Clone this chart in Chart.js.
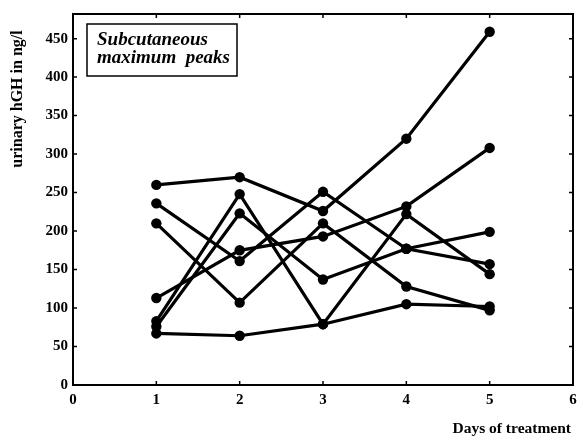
<!DOCTYPE html>
<html>
<head>
<meta charset="utf-8">
<script src="https://cdn.jsdelivr.net/npm/chart.js@4/dist/chart.umd.min.js"></script>
<style>
html,body{margin:0;padding:0;background:#fff;}
#wrap{width:586px;height:441px;position:relative;}
</style>
</head>
<body>
<div id="wrap"><canvas id="c" width="586" height="441"></canvas></div>
<script>
const days = [1, 2, 3, 4, 5];
const xTicks = [0, 1, 2, 3, 4, 5, 6];
const yTicks = [0, 50, 100, 150, 200, 250, 300, 350, 400, 450];
const patientA = [260, 270, 226, 320, 459];
const patientB = [236, 161, 251, 177, 157];
const patientC = [113, 175, 193, 232, 308];
const patientD = [210, 107, 210, 128, 97];
const patientE = [83, 248, 79, 222, 144];
const patientF = [76, 223, 137, 177, 199];
const patientG = [67, 64, 79, 105, 102];
const yTitle = 'urinary hGH in ng/l';
const xTitle = 'Days of treatment';
const boxLines = ['Subcutaneous', 'maximum  peaks'];

const allSeries = [patientA, patientB, patientC, patientD, patientE, patientF, patientG];
const datasets = allSeries.map(s => ({
  data: s.map((v, i) => ({x: days[i], y: v})),
  borderColor: '#000',
  backgroundColor: '#000',
  borderWidth: 3.2,
  pointRadius: 5.2,
  pointHoverRadius: 5.2,
  pointBorderWidth: 0,
  tension: 0,
  clip: false
}));

const SERIF = '"Liberation Serif", "Times New Roman", serif';

const framePlugin = {
  id: 'frame',
  afterDraw(chart) {
    const ctx = chart.ctx;
    const a = chart.chartArea;
    const xs = chart.scales.x, ys = chart.scales.y;
    ctx.save();
    ctx.strokeStyle = '#000';
    ctx.lineWidth = 2;
    ctx.strokeRect(a.left, a.top, a.right - a.left, a.bottom - a.top);
    ctx.lineWidth = 1.5;
    const t = 4;
    ctx.beginPath();
    xTicks.forEach(v => {
      const px = xs.getPixelForValue(v);
      ctx.moveTo(px, a.bottom); ctx.lineTo(px, a.bottom - t);
      ctx.moveTo(px, a.top); ctx.lineTo(px, a.top + t);
    });
    yTicks.forEach(v => {
      const py = ys.getPixelForValue(v);
      ctx.moveTo(a.left, py); ctx.lineTo(a.left + t, py);
      ctx.moveTo(a.right, py); ctx.lineTo(a.right - t, py);
    });
    ctx.stroke();

    // text box
    ctx.lineWidth = 1.5;
    ctx.fillStyle = '#fff';
    ctx.fillRect(87, 24, 150, 52);
    ctx.strokeRect(87, 24, 150, 52);
    ctx.fillStyle = '#000';
    ctx.font = 'bold italic 19px ' + SERIF;
    ctx.textAlign = 'left';
    ctx.textBaseline = 'alphabetic';
    ctx.fillText(boxLines[0], 97, 45);
    ctx.fillText(boxLines[1], 97, 63);

    // axis titles
    ctx.font = 'bold 15.5px ' + SERIF;
    ctx.textAlign = 'right';
    ctx.fillText(xTitle, 571, 433);
    ctx.save();
    ctx.translate(22, 99);
    ctx.rotate(-Math.PI / 2);
    ctx.textAlign = 'center';
    ctx.font = 'bold 16px ' + SERIF;
    ctx.fillText(yTitle, 0, 0);
    ctx.restore();
    ctx.restore();
  }
};

new Chart(document.getElementById('c'), {
  type: 'line',
  data: { datasets },
  options: {
    responsive: false,
    animation: false,
    events: [],
    layout: { padding: { left: 0, top: 10, right: 13, bottom: 0 } },
    plugins: { legend: { display: false }, tooltip: { enabled: false } },
    scales: {
      x: {
        type: 'linear', min: 0, max: 6,
        afterBuildTicks: s => { s.ticks = xTicks.map(v => ({value: v})); },
        afterFit: s => { s.height = 56; },
        grid: { display: false, drawTicks: false },
        border: { display: false },
        ticks: { color: '#000', padding: 6, maxRotation: 0, font: { family: SERIF, weight: 'bold', size: 15 } }
      },
      y: {
        type: 'linear', min: 0, max: 482,
        afterBuildTicks: s => { s.ticks = yTicks.map(v => ({value: v})); },
        afterFit: s => { s.width = 73; },
        grid: { display: false, drawTicks: false },
        border: { display: false },
        ticks: { color: '#000', padding: 5, font: { family: SERIF, weight: 'bold', size: 15 } }
      }
    }
  },
  plugins: [framePlugin]
});
</script>
</body>
</html>
